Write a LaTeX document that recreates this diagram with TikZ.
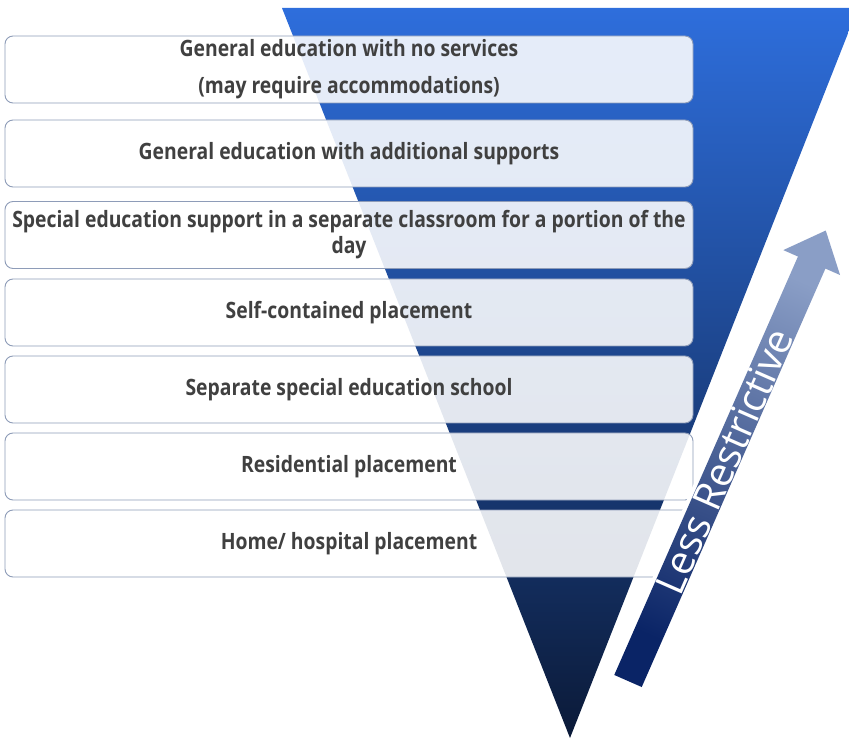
\documentclass[tikz,border=0pt]{standalone}
\usepackage{fontspec}
\setmainfont{Open Sans}
\newfontfamily\boxfont{Open Sans}[FakeStretch=0.86]
\usetikzlibrary{shapes.geometric}
\definecolor{triTop}{HTML}{2E6EDC}
\definecolor{triMid}{HTML}{13326E}
\definecolor{triBot}{HTML}{0B1A38}
\definecolor{arrTail}{HTML}{0A2466}
\definecolor{arrTip}{HTML}{8A9EC6}
\definecolor{boxLine}{HTML}{8E9CB8}
\definecolor{boxText}{HTML}{404040}
\tikzset{
  levelbox/.style={draw=boxLine, line width=0.9pt, rounded corners=8pt,
    fill=white, fill opacity=0.88, text opacity=1,
    minimum width=688pt, minimum height=67pt, inner sep=0pt,
    align=center, text=boxText,
    font=\boxfont\bfseries\fontsize{22.5}{26}\selectfont},
  arrowbody/.style={top color=arrTip, bottom color=arrTail, shading angle=-23.7},
  arrowtext/.style={text=white, font=\fontsize{40}{46}\selectfont, inner sep=0pt}
}
\begin{document}
\begin{tikzpicture}[x=1pt,y=1pt]
\useasboundingbox (0,0) rectangle (849,740);
\clip (0,0) rectangle (849,740);
% inverted triangle
\coordinate (tl) at (282,732);
\coordinate (tr) at (858,732);
\coordinate (apex) at (570,2);
\shade[top color=triTop, middle color=triMid, bottom color=triBot]
  (tl) -- (tr) -- (apex) -- cycle;
% boxes
\node[levelbox] (b1) at (349,670.5) {General education with no services\\[11pt](may require accommodations)};
\node[levelbox] (b2) at (349,586.5) {General education with additional supports};
\node[levelbox] (b3) at (349,505) {Special education support in a separate classroom for a portion of the\\day};
\node[levelbox] (b4) at (349,427.5) {Self-contained placement};
\node[levelbox] (b5) at (349,350.5) {Separate special education school};
\node[levelbox] (b6) at (349,273.5) {Residential placement};
\node[levelbox] (b7) at (349,196.5) {Home/ hospital placement};
% arrow
\begin{scope}[shift={(628,59)}, rotate=66.3]
  \draw[white, line width=8pt, line join=round]
    (0,-15) -- (457,-15) -- (457,-31) -- (492,0) -- (457,31) -- (457,15) -- (0,15) -- cycle;
  \shade[arrowbody]
    (0,-15) -- (457,-15) -- (457,-31) -- (492,0) -- (457,31) -- (457,15) -- (0,15) -- cycle;
  \node[arrowtext, rotate=66.3] (lbl) at (240,0) {Less Restrictive};
\end{scope}
\end{tikzpicture}
\end{document}
